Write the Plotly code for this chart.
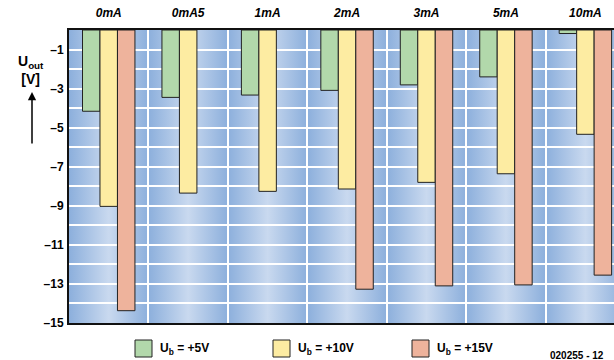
import base64
import plotly.graph_objects as go

# ---------------- data ----------------
categories = ["0mA", "0mA5", "1mA", "2mA", "3mA", "5mA", "10mA"]
u_5v = [-4.16, -3.45, -3.33, -3.09, -2.81, -2.40, -0.18]
u_10v = [-9.03, -8.35, -8.26, -8.14, -7.80, -7.36, -5.34]
u_15v = [-14.37, None, None, -13.27, -13.10, -13.05, -12.55]
series_names = ["U<sub>b</sub> = +5V", "U<sub>b</sub> = +10V", "U<sub>b</sub> = +15V"]
y_ticks = [-15, -13, -11, -9, -7, -5, -3, -1]
y_labels = ["\u201315", "\u201313", "\u201311", "\u20139", "\u20137", "\u20135", "\u20133", "\u20131"]
y_minor = [-14, -12, -10, -8, -6, -4, -2]

# ---------------- style ----------------
W, H = 614, 360
L, R, T, B = 69, 0, 30, 37
PW, PH = W - L - R, H - T - B
FONT = "Liberation Sans, Arial, sans-serif"
bar_colors = ["#b2d8ab", "#fdeca2", "#eeb39c"]
edge = "#222222"


def px(x):
    return (x - L) / PW


def py(y):
    return (H - B - y) / PH


idx = list(range(len(categories)))

fig = go.Figure()
for name, vals, col in zip(series_names, [u_5v, u_10v, u_15v], bar_colors):
    fig.add_trace(go.Bar(
        x=idx, y=vals, name=name,
        marker=dict(color=col, line=dict(color=edge, width=1)),
        hoverinfo="skip", showlegend=False,
    ))

# background: blue band per category, dark at the edges and light in the middle
n = len(categories)
rects = "".join(f'<rect x="{i}" y="0" width="1" height="1" fill="url(#g)"/>' for i in range(n))
svg = (
    f'<svg xmlns="http://www.w3.org/2000/svg" width="{n*100}" height="100" '
    f'viewBox="0 0 {n} 1" preserveAspectRatio="none">'
    '<defs><linearGradient id="g" x1="0" y1="0" x2="1" y2="0">'
    '<stop offset="0" stop-color="#8cafdc"/>'
    '<stop offset="0.5" stop-color="#c9d9ef"/>'
    '<stop offset="1" stop-color="#8cafdc"/>'
    '</linearGradient></defs>' + rects + '</svg>'
)
src = "data:image/svg+xml;base64," + base64.b64encode(svg.encode()).decode()
fig.add_layout_image(dict(
    source=src, xref="x", yref="y", x=-0.5, y=0, sizex=n, sizey=15,
    xanchor="left", yanchor="top", sizing="stretch", layer="below",
))

annotations = [
    dict(text="U<sub>out</sub><br>[V]", x=px(31), y=py(70), xref="paper", yref="paper",
         showarrow=False, xanchor="center", yanchor="middle",
         font=dict(family=FONT, size=14, color="black", weight="bold")),
    dict(text="", x=px(32), y=py(92), xref="paper", yref="paper",
         showarrow=True, ax=0, ay=53, arrowhead=2, arrowsize=1.1, arrowwidth=1.5,
         arrowcolor="black"),
    dict(text="020255 - 12", x=px(606), y=py(355), xref="paper", yref="paper",
         showarrow=False, xanchor="right", yanchor="middle",
         font=dict(family=FONT, size=10, color="black", weight="bold")),
]

shapes = []
leg_x = [135, 273, 412]
for lx, name, col in zip(leg_x, series_names, bar_colors):
    shapes.append(dict(type="rect", xref="paper", yref="paper",
                       x0=px(lx), x1=px(lx + 17), y0=py(357), y1=py(340),
                       fillcolor=col, line=dict(color=edge, width=1)))
    annotations.append(dict(text=name, x=px(lx + 23), y=py(349), xref="paper", yref="paper",
                            showarrow=False, xanchor="left", yanchor="middle",
                            font=dict(family=FONT, size=12, color="black", weight="bold")))

fig.update_layout(
    width=W, height=H,
    margin=dict(l=L, r=R, t=T, b=B, pad=0),
    paper_bgcolor="white", plot_bgcolor="rgba(0,0,0,0)",
    barmode="group", bargap=0.34, bargroupgap=0,
    showlegend=False,
    annotations=annotations, shapes=shapes,
    xaxis=dict(
        range=[-0.5, 6.36], tickmode="array", tickvals=idx, ticktext=categories,
        side="top", showgrid=False, zeroline=False, ticks="",
        minor=dict(tickmode="array", tickvals=[i + 0.5 for i in idx], showgrid=True,
                   gridcolor="white", gridwidth=1.5, ticks=""),
        showline=True, mirror=True, linecolor="#111", linewidth=2,
        ticklabelstandoff=6,
        tickfont=dict(family=FONT, size=12, color="black", weight="bold", style="italic"),
        fixedrange=True,
    ),
    yaxis=dict(
        range=[-15, 0], tickmode="array", tickvals=y_ticks, ticktext=y_labels,
        showgrid=True, gridcolor="white", gridwidth=1.5, zeroline=False, ticks="",
        minor=dict(tickmode="array", tickvals=y_minor, showgrid=True,
                   gridcolor="white", gridwidth=1.5, ticks=""),
        showline=True, linecolor="#111", linewidth=2, ticklabelstandoff=1,
        tickfont=dict(family=FONT, size=12, color="black", weight="bold"),
        fixedrange=True,
    ),
)

fig.write_html("out.html", config={"displayModeBar": False},
               post_script="document.body.style.margin='0';")
